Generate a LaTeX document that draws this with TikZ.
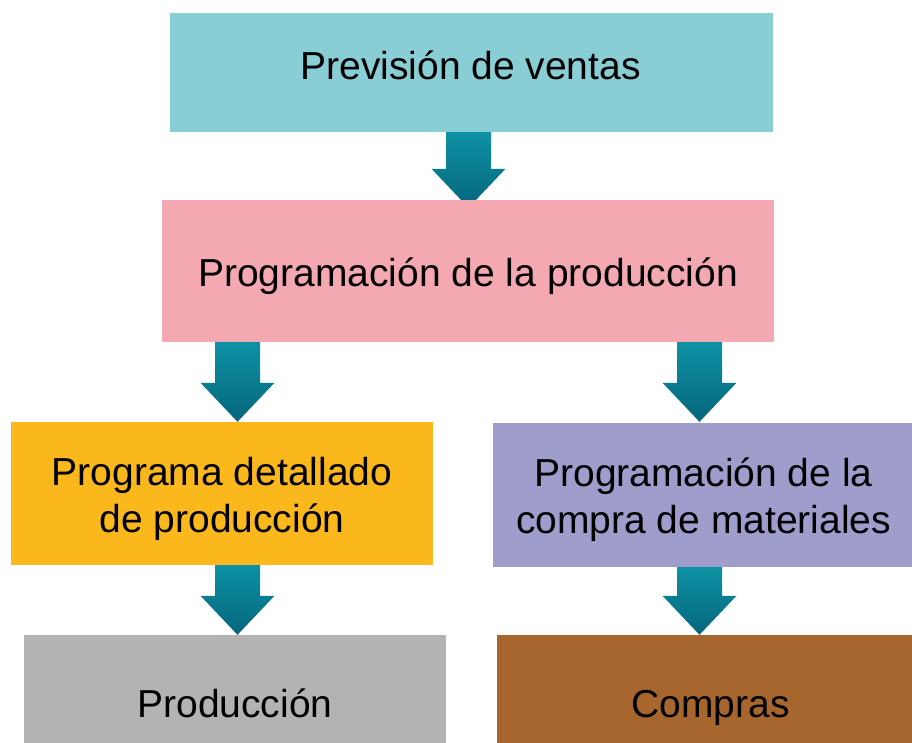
\documentclass[tikz,border=0pt]{standalone}
\usepackage{fontspec}
\setmainfont{Liberation Sans}
\usetikzlibrary{calc}
\pgfdeclarelayer{bg}
\pgfsetlayers{bg,main}
\definecolor{cTop}{HTML}{89CDD5}
\definecolor{cPink}{HTML}{F4A8B2}
\definecolor{cYellow}{HTML}{FAB81C}
\definecolor{cPurple}{HTML}{9F9DCC}
\definecolor{cGray}{HTML}{B3B3B3}
\definecolor{cBrown}{HTML}{A8662F}
\definecolor{arrowLight}{HTML}{0E91A4}
\definecolor{arrowDark}{HTML}{05667D}
\newcommand\blockarrow[4]{%
  \begin{pgfonlayer}{bg}
  \shade[top color=arrowLight, middle color=arrowDark, bottom color=arrowDark]
    let \p1=(#1.south), \p2=(#2.north), \p3=(#3) in
    (\x3-22.5pt,\y1) -- (\x3+22.5pt,\y1) -- (\x3+22.5pt,\y2+#4pt) -- (\x3+37pt,\y2+#4pt)
    -- (\x3,\y2+#4pt-39pt) -- (\x3-37pt,\y2+#4pt) -- (\x3-22.5pt,\y2+#4pt) -- cycle;
  \end{pgfonlayer}}
\begin{document}
\begin{tikzpicture}[x=1pt,y=-1pt,
  box/.style={draw=none, inner sep=0pt},
  lbl/.style={inner sep=0pt, align=center, text=black, anchor=base,
    font=\fontsize{39}{47}\selectfont}]
\useasboundingbox (0,0) rectangle (912,743);
\node[box, fill=cTop, minimum width=603pt, minimum height=119pt] (prev) at (471.5,72.5) {};
\node[box, fill=cPink, minimum width=612pt, minimum height=142pt] (prog) at (468,271) {};
\node[box, fill=cYellow, minimum width=422pt, minimum height=143pt] (det) at (222,493.5) {};
\node[box, fill=cPurple, minimum width=419pt, minimum height=144pt] (comp) at (702.5,495) {};
\node[box, fill=cGray, minimum width=422pt, minimum height=140pt] (prod) at (235,705) {};
\node[box, fill=cBrown, minimum width=415pt, minimum height=140pt] (compras) at (704.5,705) {};
\node[lbl] (tprev) at ($(prev.center)+(-1,7.5)$) {Previsión de ventas};
\node[lbl] (tprog) at ($(prog.center)+(0,15)$) {Programación de la producción};
\node[lbl] (tdet) at ($(det.center)+(0,38.5)$) {Programa detallado\\de producción};
\node[lbl] (tcomp) at ($(comp.center)+(1,38)$) {Programación de la\\compra de materiales};
\node[lbl] (tprod) at ($(prod.center)+(0,12)$) {Producción};
\node[lbl] (tcompras) at ($(compras.center)+(6,12)$) {Compras};
\coordinate (ax1) at (468.5,0);
\coordinate (ax2) at (237.5,0);
\coordinate (ax3) at (699.5,0);
\blockarrow{prev}{prog}{ax1}{31}
\blockarrow{prog}{det}{ax2}{39}
\blockarrow{prog}{comp}{ax3}{40}
\blockarrow{det}{prod}{ax2}{39}
\blockarrow{comp}{compras}{ax3}{39}
\end{tikzpicture}
\end{document}
